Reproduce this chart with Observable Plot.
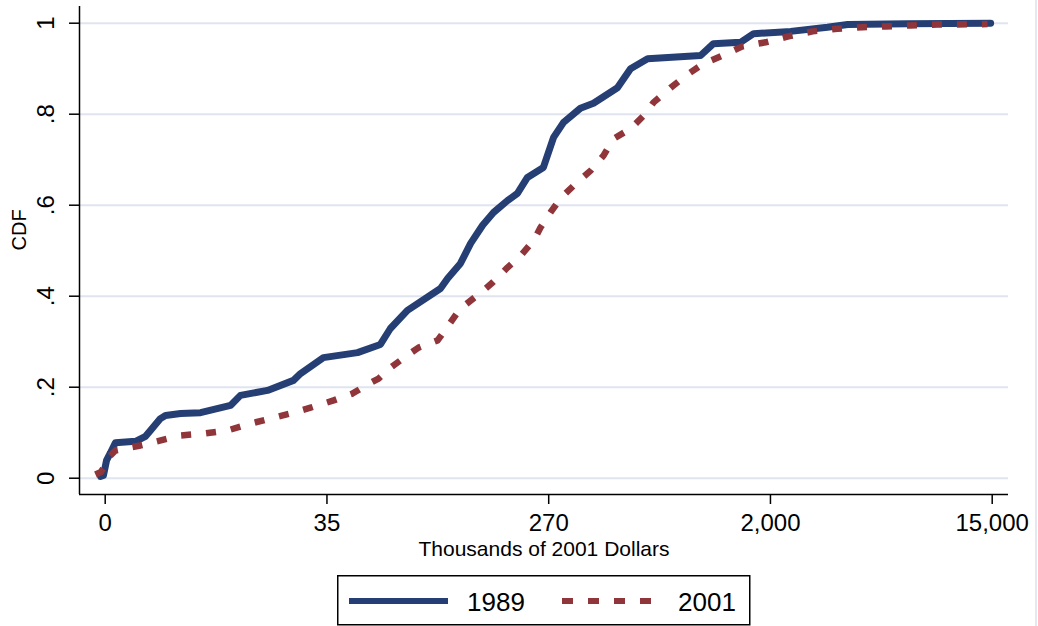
<!DOCTYPE html>
<html>
<head>
<meta charset="utf-8">
<script src="https://cdn.jsdelivr.net/npm/d3@7"></script>
<script src="https://cdn.jsdelivr.net/npm/@observablehq/plot@0.6"></script>
<style>
  body { margin: 0; background: #fff; }
  #wrap { position: relative; width: 1038px; height: 626px; background: #fff;
          font-family: "Liberation Sans", Arial, Helvetica, sans-serif; overflow: hidden; }
  #edge { position: absolute; left: 1035px; top: 0; width: 2px; height: 626px; background: #e6e8f0; }
  #legend { position: absolute; left: 337px; top: 575px; }
</style>
</head>
<body>
<div id="wrap">
  <div id="chart"></div>
  <div id="edge"></div>
  <div id="legend"></div>
</div>
<script>
// Axis positions (equal steps on the transformed wealth axis) and their labels
const xTickPos = [0, 1, 2, 3, 4];
const xTickLabels = ["0", "35", "270", "2,000", "15,000"];
const yTicks = [0, 0.2, 0.4, 0.6, 0.8, 1];
const yTickLabels = ["0", ".2", ".4", ".6", ".8", "1"];
const seriesNames = ["1989", "2001"];

// 1989 CDF: position on transformed axis, cumulative share
const pos1989 = [-0.021, -0.008, 0.006, 0.024, 0.046, 0.137, 0.182, 0.204, 0.249, 0.272, 0.340, 0.430, 0.565, 0.610, 0.732, 0.849, 0.881, 0.984, 1.138, 1.241, 1.286, 1.363, 1.512, 1.544, 1.602, 1.648, 1.702, 1.751, 1.814, 1.859, 1.904, 1.976, 2.022, 2.067, 2.143, 2.202, 2.310, 2.369, 2.446, 2.685, 2.743, 2.865, 2.924, 3.091, 3.257, 3.348, 3.618, 3.993];
const cdf1989 = [0.004, 0.006, 0.039, 0.056, 0.078, 0.081, 0.092, 0.105, 0.131, 0.138, 0.142, 0.144, 0.160, 0.182, 0.193, 0.215, 0.230, 0.265, 0.276, 0.294, 0.329, 0.369, 0.417, 0.439, 0.472, 0.516, 0.556, 0.584, 0.610, 0.626, 0.661, 0.683, 0.749, 0.782, 0.813, 0.824, 0.858, 0.900, 0.922, 0.929, 0.955, 0.958, 0.977, 0.982, 0.991, 0.997, 0.999, 1.000];

// 2001 CDF
const pos2001 = [-0.044, -0.021, 0.001, 0.010, 0.046, 0.159, 0.340, 0.443, 0.552, 0.655, 0.745, 0.849, 0.926, 1.030, 1.115, 1.183, 1.233, 1.287, 1.354, 1.413, 1.499, 1.548, 1.602, 1.679, 1.747, 1.814, 1.873, 1.932, 1.963, 2.008, 2.053, 2.121, 2.189, 2.247, 2.292, 2.369, 2.437, 2.473, 2.549, 2.631, 2.698, 2.784, 2.874, 2.978, 3.081, 3.190, 3.302, 3.415, 3.518, 3.631, 3.753, 3.979];
const cdf2001 = [0.008, 0.013, 0.028, 0.043, 0.061, 0.072, 0.094, 0.098, 0.105, 0.120, 0.131, 0.144, 0.155, 0.171, 0.186, 0.206, 0.219, 0.243, 0.267, 0.287, 0.303, 0.336, 0.373, 0.402, 0.430, 0.463, 0.489, 0.522, 0.551, 0.584, 0.615, 0.647, 0.676, 0.709, 0.746, 0.768, 0.801, 0.826, 0.858, 0.889, 0.911, 0.929, 0.949, 0.958, 0.971, 0.982, 0.988, 0.991, 0.993, 0.995, 0.997, 0.998];

const blue = "#253f74";
const red = "#903539";
const grid = "#e0e4ef";
const font = '"Liberation Sans", Arial, Helvetica, sans-serif';

const data1989 = pos1989.map((x, i) => ({x, y: cdf1989[i]}));
const data2001 = pos2001.map((x, i) => ({x, y: cdf2001[i]}));

const xDomain = [-0.1159, 4.0735];
const yDomain = [-0.0358, 1.0367];

const chart = Plot.plot({
  width: 1038,
  height: 566,
  marginLeft: 79,
  marginRight: 30,
  marginTop: 6,
  marginBottom: 72,
  style: {fontFamily: font, background: "white", color: "#000"},
  x: {domain: xDomain},
  y: {domain: yDomain},
  marks: [
    Plot.gridY(yTicks, {stroke: grid, strokeOpacity: 1, strokeWidth: 2}),
    Plot.ruleX([xDomain[0]], {stroke: "#000", strokeWidth: 1.5}),
    Plot.ruleY([yDomain[0]], {stroke: "#000", strokeWidth: 1.5}),
    Plot.axisX(xTickPos, {
      tickSize: 10, tickPadding: 9, strokeWidth: 1.5, fontSize: 24, label: null,
      tickFormat: d => xTickLabels[xTickPos.indexOf(d)]
    }),
    Plot.axisY(yTicks, {tickSize: 10, strokeWidth: 1.5, tickFormat: () => "", label: null}),
    Plot.text(yTicks, {
      y: d => d, frameAnchor: "left", dx: -33, rotate: -90, fontSize: 24,
      textAnchor: "middle", lineAnchor: "middle",
      text: d => yTickLabels[yTicks.indexOf(d)]
    }),
    Plot.text(["CDF"], {frameAnchor: "left", dx: -60, rotate: -90, fontSize: 20, text: d => d}),
    Plot.text(["Thousands of 2001 Dollars"], {frameAnchor: "bottom", dy: 47, lineAnchor: "top", fontSize: 21, text: d => d}),
    Plot.line(data1989, {x: "x", y: "y", stroke: blue, strokeWidth: 7, strokeLinejoin: "round"}),
    Plot.line(data2001, {x: "x", y: "y", stroke: red, strokeWidth: 6.5, strokeDasharray: "10 15", strokeLinecap: "butt"})
  ]
});
document.getElementById("chart").appendChild(chart);

// Legend (below the plot SVG)
const lg = d3.select("#legend").append("svg")
  .attr("width", 414).attr("height", 51)
  .style("font-family", font);
lg.append("rect").attr("x", 0.75).attr("y", 0.75).attr("width", 412).attr("height", 49)
  .attr("fill", "white").attr("stroke", "#000").attr("stroke-width", 1.5);
lg.append("line").attr("x1", 12).attr("x2", 111).attr("y1", 26).attr("y2", 26)
  .attr("stroke", blue).attr("stroke-width", 6);
lg.append("text").attr("x", 130).attr("y", 36).attr("font-size", 26).text(seriesNames[0]);
lg.append("line").attr("x1", 225).attr("x2", 315).attr("y1", 26).attr("y2", 26)
  .attr("stroke", red).attr("stroke-width", 6).attr("stroke-dasharray", "11 15");
lg.append("text").attr("x", 341).attr("y", 36).attr("font-size", 26).text(seriesNames[1]);
</script>
</body>
</html>
